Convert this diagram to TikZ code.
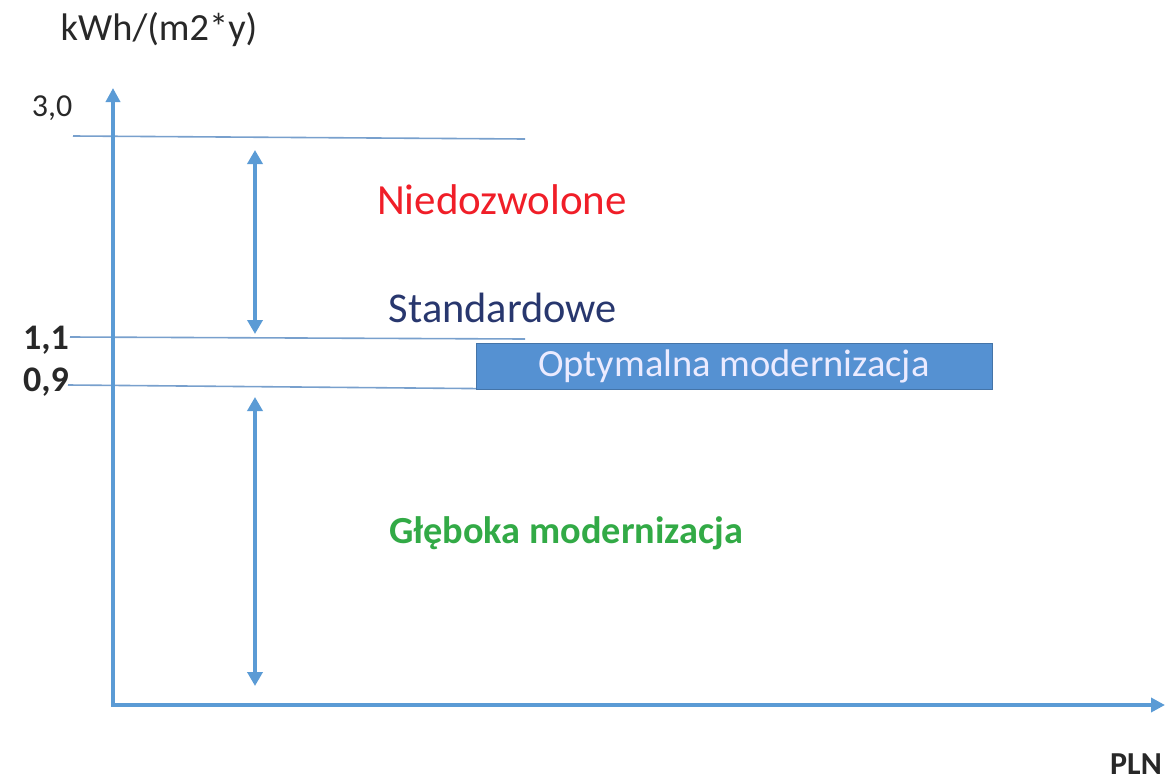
\documentclass[tikz,border=0pt]{standalone}
\usepackage{fontspec}
\setmainfont{Carlito}
\usetikzlibrary{arrows.meta}
\definecolor{axisblue}{RGB}{91,155,213}
\definecolor{thinblue}{RGB}{120,160,205}
\definecolor{boxblue}{RGB}{85,145,210}
\definecolor{navy}{RGB}{40,55,110}
\definecolor{redtxt}{RGB}{240,30,40}
\definecolor{greentxt}{RGB}{50,170,70}
\definecolor{labgray}{RGB}{40,40,40}
\tikzset{
  axis/.style={draw=axisblue, line width=4pt, -{Triangle[length=14pt,width=14pt]}},
  dbl/.style={draw=axisblue, line width=4pt, {Triangle[length=14pt,width=15pt]}-{Triangle[length=14pt,width=15pt]}},
  level/.style={draw=thinblue, line width=1.6pt},
  ticklab/.style={text=labgray, font=\fontsize{36}{38}\selectfont\bfseries, inner sep=0pt},
  zonelab/.style={inner sep=0pt},
  optbox/.style={fill=boxblue, draw=boxblue!80!black, line width=1pt, text=white!92!blue, font=\fontsize{38.5}{40}\selectfont, inner sep=0pt, minimum width=516pt, minimum height=46pt}
}
\begin{document}
\begin{tikzpicture}[x=1pt,y=-1pt]
\useasboundingbox (0,0) rectangle (1165,782);
% coordinates
\coordinate (origin) at (113,705);
\coordinate (ytop) at (113,88);
\coordinate (xend) at (1165,705);
\coordinate (l3a) at (73,136); \coordinate (l3b) at (525,139);
\coordinate (l11a) at (70,337); \coordinate (l11b) at (525,339);
\coordinate (l09a) at (68,385); \coordinate (l09b) at (525,389);
\coordinate (u1) at (255,150); \coordinate (u2) at (255,334);
\coordinate (d1) at (255,397); \coordinate (d2) at (255,686);
% levels
\draw[level] (l3a) -- (l3b);
\draw[level] (l11a) -- (l11b);
\draw[level] (l09a) -- (l09b);
% axes
\draw[axis] (origin) -- (ytop);
\draw[axis] ([xshift=-2pt]origin) -- (xend);
% double arrows
\draw[dbl] (u1) -- (u2);
\draw[dbl] (d1) -- (d2);
% box
\node[optbox] (opt) at (734,366) {Optymalna modernizacja};
% labels
\node[text=labgray, font=\fontsize{38.4}{40}\selectfont, inner sep=0pt] (unit) at (159,30) {kWh/(m2*y)};
\node[text=labgray, font=\fontsize{32}{34}\selectfont, inner sep=0pt] (t30) at (52,108) {3,0};
\node[ticklab] (t11) at (46,340) {1,1};
\node[ticklab] (t09) at (46,382) {0,9};
\node[ticklab, font=\fontsize{32}{36}\selectfont\bfseries] (pln) at (1136,764) {PLN};
\node[zonelab, text=redtxt, font=\fontsize{43}{46}\selectfont] (nied) at (502,200) {Niedozwolone};
\node[zonelab, text=navy, font=\fontsize{42.4}{46}\selectfont] (std) at (503,308) {Standardowe};
\node[zonelab, text=greentxt, font=\fontsize{38.3}{40}\selectfont\bfseries] (gleb) at (566,533) {Głęboka modernizacja};
\end{tikzpicture}
\end{document}
